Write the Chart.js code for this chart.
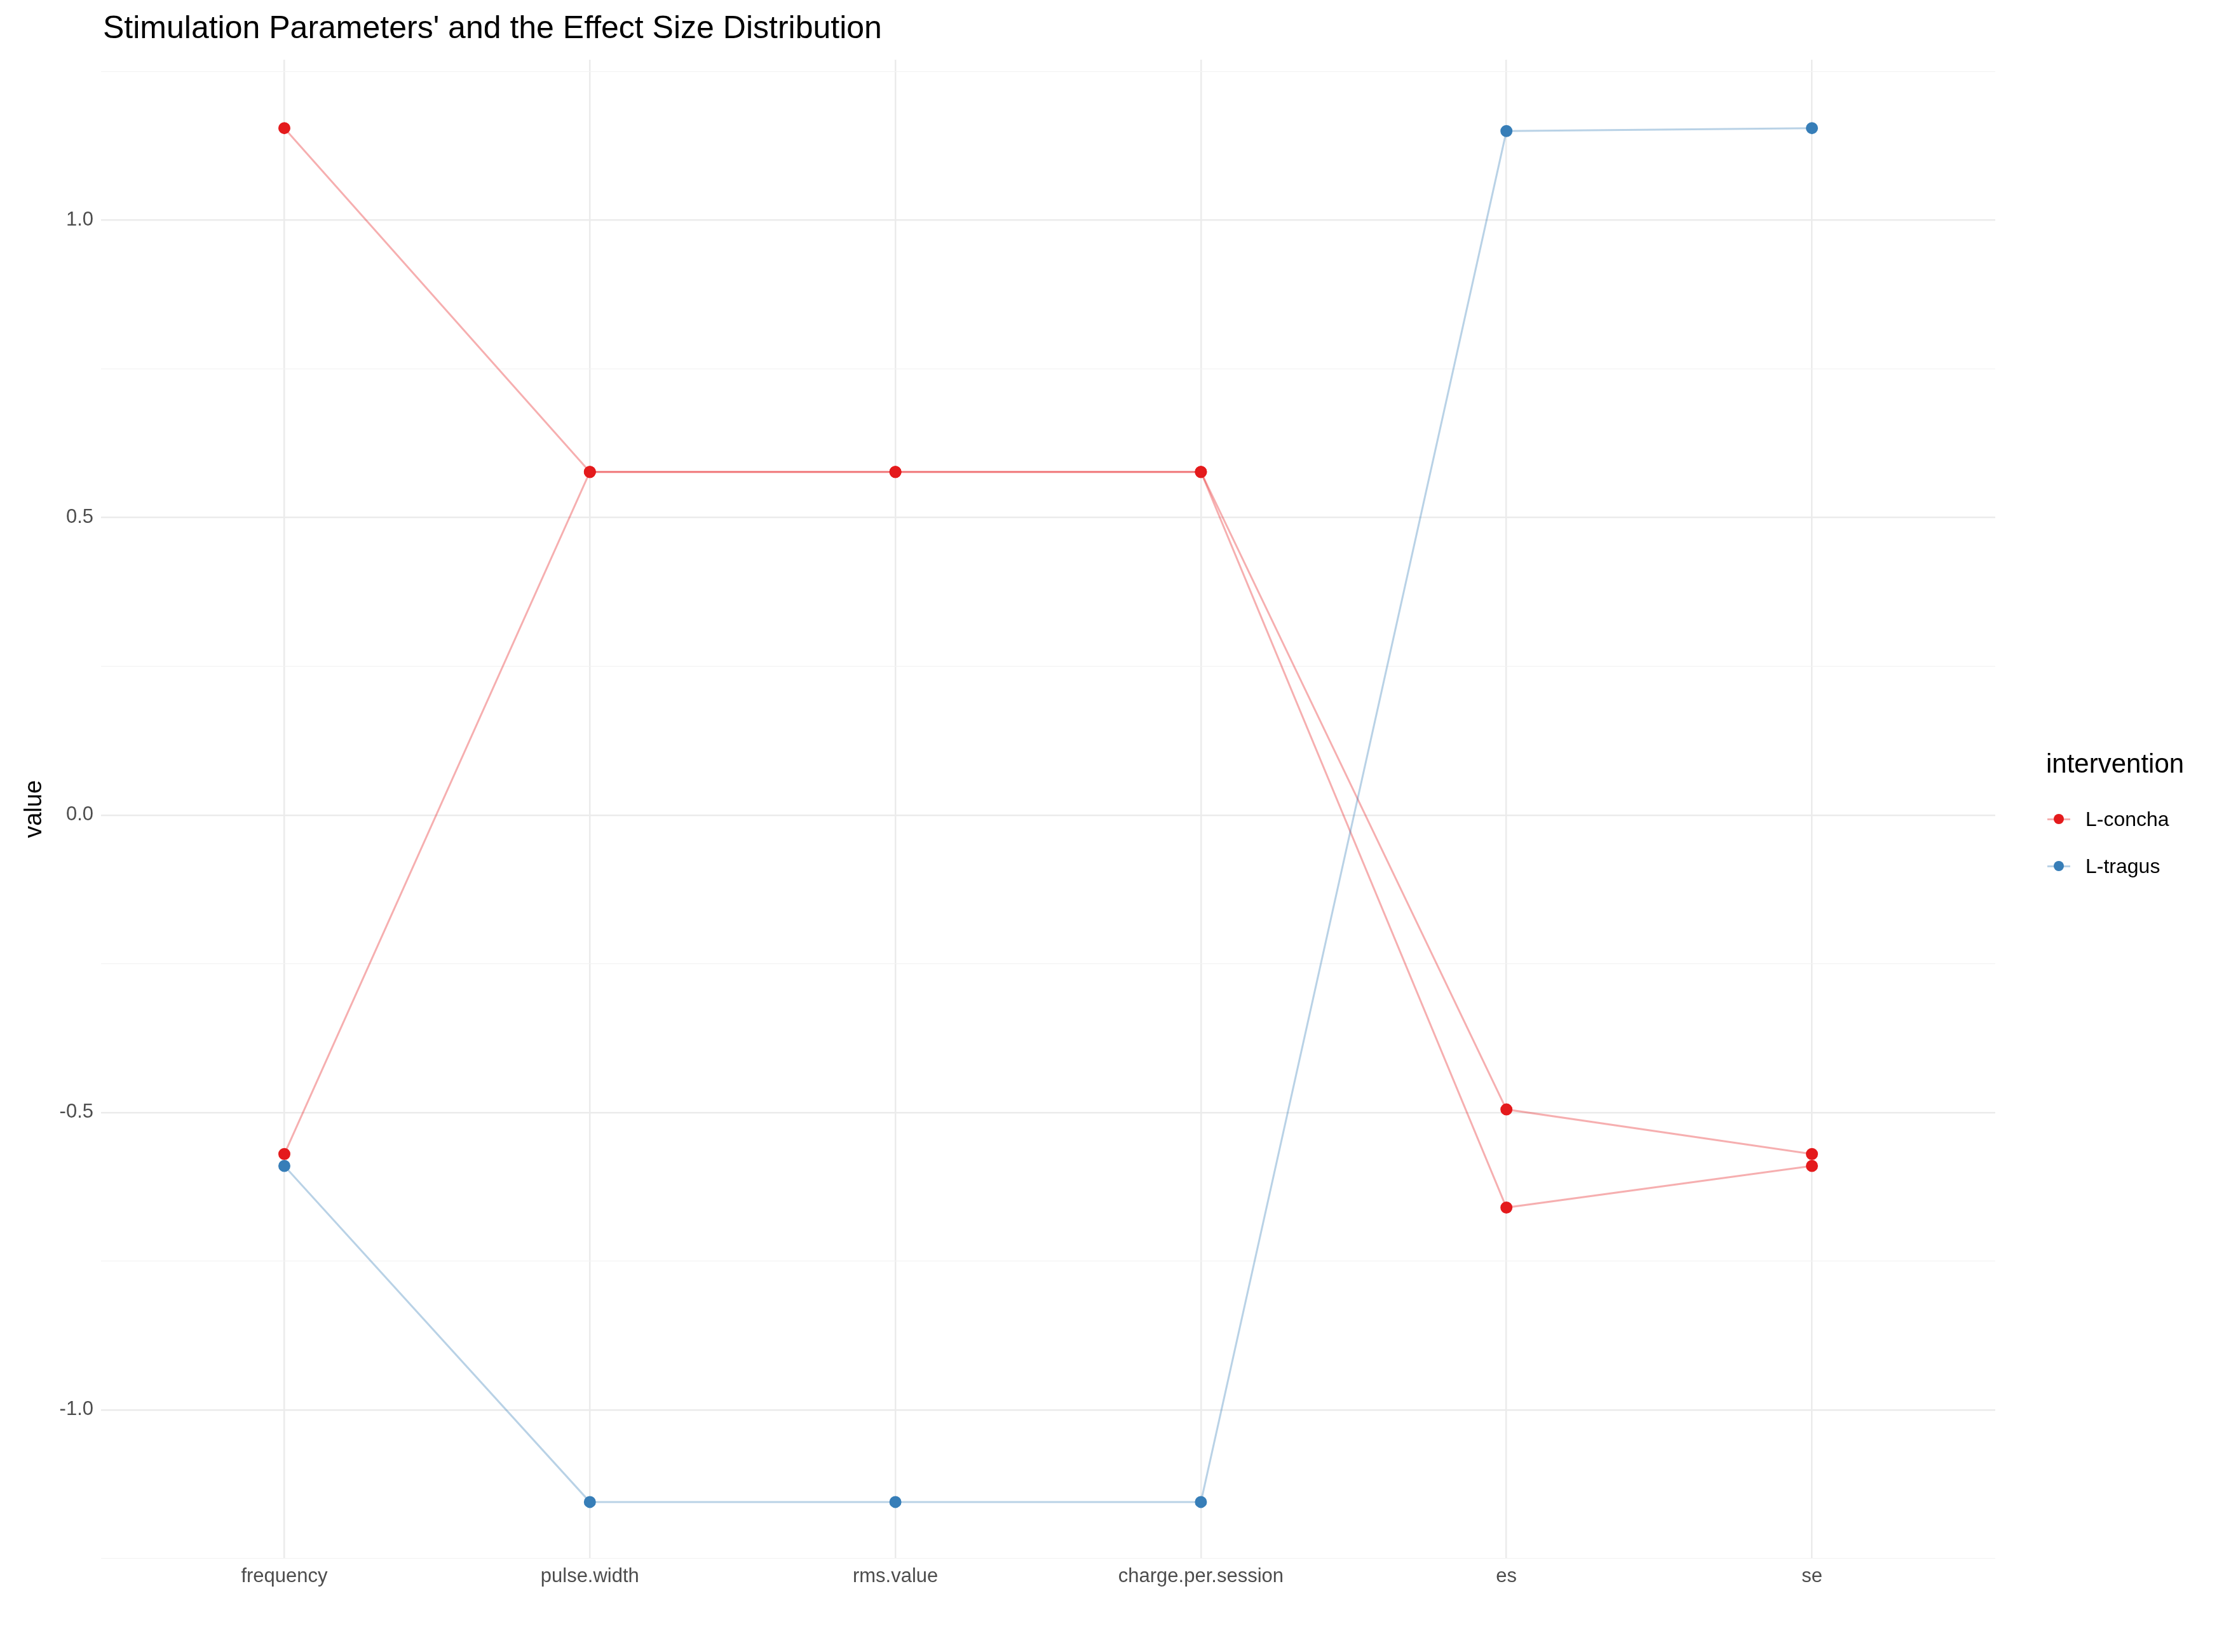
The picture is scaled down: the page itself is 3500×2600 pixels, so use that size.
<!DOCTYPE html>
<html>
<head>
<meta charset="utf-8">
<script src="https://cdn.jsdelivr.net/npm/chart.js@4.4.0/dist/chart.umd.min.js"></script>
<style>
  body { margin: 0; background: #fff; font-family: "Liberation Sans", Arial, sans-serif; }
  #wrap { position: relative; width: 3500px; height: 2600px; }
  #title { position: absolute; left: 162px; top: 14px; font-size: 50px; color: #000; }
  #legend { position: absolute; left: 3220px; top: 1178px; font-size: 36px; }
  #legend .head { font-size: 42px; margin-bottom: 26px; }
  #legend .item { display: flex; align-items: center; height: 74px; font-size: 32px; }
  #legend .key { position: relative; width: 40px; height: 40px; margin-right: 22px; }
  #legend .key .ln { position: absolute; left: 2px; right: 2px; top: 19px; height: 3px; }
  #legend .key .pt { position: absolute; left: 12px; top: 12px; width: 16px; height: 16px; border-radius: 50%; }
</style>
</head>
<body>
<div id="wrap">
  <canvas id="c" width="3500" height="2600"></canvas>
  <div id="title">Stimulation Parameters' and the Effect Size Distribution</div>
  <div id="legend">
    <div class="head">intervention</div>
    <div class="item"><div class="key"><div class="ln" style="background:rgba(228,26,28,0.35)"></div><div class="pt" style="background:#E41A1C"></div></div>L-concha</div>
    <div class="item"><div class="key"><div class="ln" style="background:rgba(55,126,184,0.35)"></div><div class="pt" style="background:#377EB8"></div></div>L-tragus</div>
  </div>
</div>
<script>
const variables = ["frequency", "pulse.width", "rms.value", "charge.per.session", "es", "se"];
const conchaA = [1.155, 0.577, 0.577, 0.577, -0.495, -0.57];
const conchaB = [-0.57, 0.577, 0.577, 0.577, -0.66, -0.59];
const tragus = [-0.59, -1.155, -1.155, -1.155, 1.15, 1.155];

const red = "#E41A1C", blue = "#377EB8";
const toPts = vals => vals.map((v, i) => ({ x: i, y: v }));
const ds = (vals, col, line) => ({
  data: toPts(vals), borderColor: line, backgroundColor: col,
  pointBackgroundColor: col, pointBorderColor: col, pointRadius: 8,
  borderWidth: 3, showLine: true, tension: 0
});

const isMajor = v => Math.abs(v * 2 - Math.round(v * 2)) < 1e-6;

new Chart(document.getElementById("c"), {
  type: "scatter",
  data: { datasets: [
    ds(tragus, blue, "rgba(55,126,184,0.35)"),
    ds(conchaA, red, "rgba(228,26,28,0.35)"),
    ds(conchaB, red, "rgba(228,26,28,0.35)")
  ] },
  options: {
    responsive: false, animation: false, devicePixelRatio: 1,
    layout: { padding: { top: 94, right: 360, bottom: 90, left: 28 } },
    plugins: { legend: { display: false }, tooltip: { enabled: false } },
    scales: {
      x: {
        type: "linear", min: -0.6, max: 5.6,
        afterBuildTicks: ax => { ax.ticks = variables.map((_, i) => ({ value: i })); },
        ticks: { callback: v => variables[v], color: "#4D4D4D", font: { size: 31, family: "Liberation Sans" }, padding: 10 },
        grid: { color: "#EBEBEB", lineWidth: 2.5, drawTicks: false },
        border: { display: false }
      },
      y: {
        min: -1.25, max: 1.27,
        afterBuildTicks: ax => {
          const t = [];
          for (let v = -1.25; v <= 1.26; v += 0.25) t.push({ value: Math.round(v * 100) / 100 });
          ax.ticks = t;
        },
        ticks: {
          callback: v => (isMajor(v) ? v.toFixed(1) : ""),
          color: "#4D4D4D", font: { size: 31, family: "Liberation Sans" }, padding: 12
        },
        grid: {
          color: c => (isMajor(c.tick.value) ? "#EBEBEB" : "#F3F3F3"),
          lineWidth: c => (isMajor(c.tick.value) ? 2.5 : 1.3),
          drawTicks: false
        },
        border: { display: false },
        title: { display: true, text: "value", color: "#000", font: { size: 38, family: "Liberation Sans" } }
      }
    }
  }
});
</script>
</body>
</html>
